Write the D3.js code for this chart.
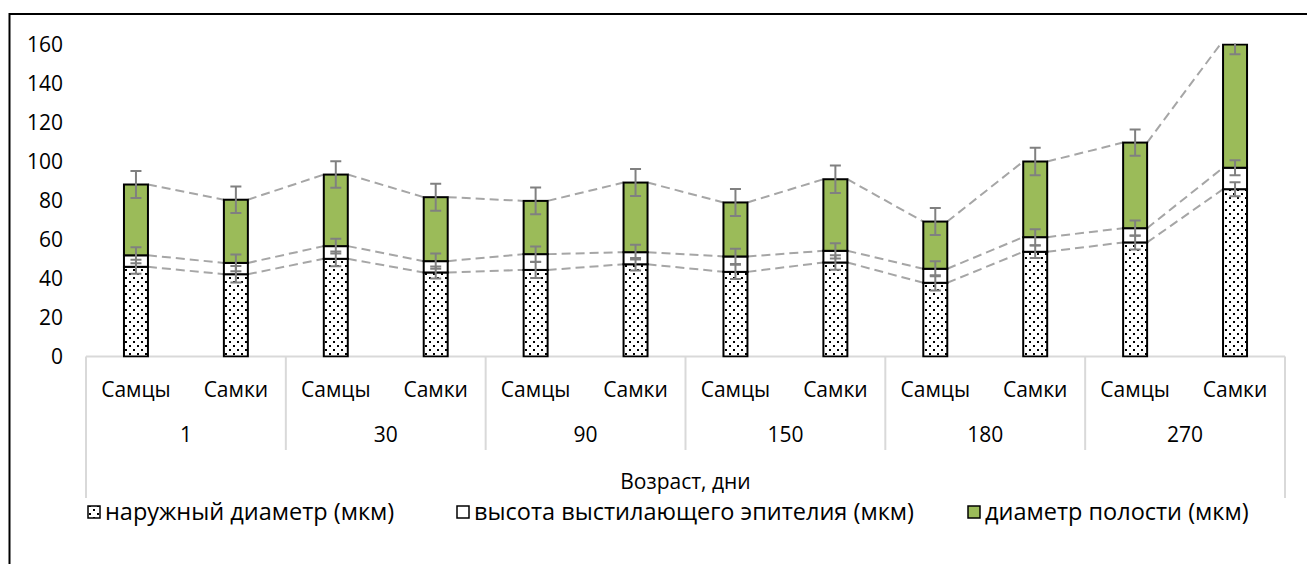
<!DOCTYPE html>
<html>
<head>
<meta charset="utf-8">
<script src="https://cdn.jsdelivr.net/npm/d3@7"></script>
<style>
  body { margin: 0; background: #fff; }
  svg { display: block; }
  text { font-family: "Open Sans", "Noto Sans", sans-serif; fill: #000; }
</style>
</head>
<body>
<svg id="chart" width="1307" height="564"></svg>
<script>
// Sex within each age group, age groups (days)
const sexes = ["Самцы", "Самки"];
const ages = ["1", "30", "90", "150", "180", "270"];

// Stacked components (µm), one value per bar: age × sex
const outerDiameter    = [46.0, 42.2, 50.1, 43.1, 44.4, 47.3, 43.4, 48.2, 37.8, 53.7, 58.5, 85.8];
const epitheliumHeight = [5.9, 5.8, 6.5, 5.8, 8.1, 6.2, 7.9, 6.0, 7.2, 7.5, 7.3, 11.0];
const cavityDiameter   = [36.3, 32.4, 36.7, 32.8, 27.3, 35.7, 27.7, 36.7, 24.2, 38.8, 43.9, 65.2];

// Error margins (±) for each component
const outerErr      = [3.6, 4.2, 3.8, 3.1, 4.1, 3.2, 3.6, 3.7, 3.9, 3.2, 3.6, 3.6];
const epitheliumErr = [4.1, 4.3, 3.8, 3.9, 3.9, 3.8, 3.9, 3.9, 3.9, 4.1, 3.9, 3.8];
const cavityErr     = [6.9, 6.8, 6.8, 6.9, 6.9, 6.9, 6.9, 7.0, 6.9, 7.0, 6.7, 7.0];

const yTicks = [0, 20, 40, 60, 80, 100, 120, 140, 160];

const seriesNames = ["наружный диаметр (мкм)", "высота выстилающего эпителия (мкм)", "диаметр полости (мкм)"];
const axisTitle = "Возраст, дни";

const keys = ["outer", "epi", "cavity"];
const rows = outerDiameter.map((v, i) => ({
  idx: i, outer: v, epi: epitheliumHeight[i], cavity: cavityDiameter[i]
}));
const errs = { outer: outerErr, epi: epitheliumErr, cavity: cavityErr };
const fills = { outer: "url(#dots)", epi: "#ffffff", cavity: "#9BBB59" };

const svg = d3.select("#chart");
const FONT = 21;
const LEGEND_FONT = 23.5;

// Plot area
const x0 = 86, x1 = 1285;
const x = d3.scaleBand().domain(d3.range(rows.length)).range([x0, x1])
  .paddingInner(0.76).paddingOuter(0.38);
const y = d3.scaleLinear().domain([0, 160]).range([356.5, 44.5]);
const bw = x.bandwidth();

const defs = svg.append("defs");
const pat = defs.append("pattern").attr("id", "dots")
  .attr("width", 8).attr("height", 8).attr("patternUnits", "userSpaceOnUse");
pat.append("rect").attr("width", 8).attr("height", 8).attr("fill", "#fff");
pat.append("rect").attr("x", 1).attr("y", 1).attr("width", 2).attr("height", 2).attr("fill", "#000");
pat.append("rect").attr("x", 5).attr("y", 5).attr("width", 2).attr("height", 2).attr("fill", "#000");

defs.append("clipPath").attr("id", "plotClip")
  .append("rect").attr("x", x0 - 20).attr("y", y(160) - 1)
  .attr("width", x1 - x0 + 40).attr("height", y(0) - y(160) + 2);

// Chart border
svg.append("rect").attr("x", 9.5).attr("y", 14).attr("width", 1400).attr("height", 700)
  .attr("fill", "none").attr("stroke", "#000").attr("stroke-width", 2);

// Y axis labels
const yAxis = svg.append("g").attr("transform", `translate(${x0},0)`)
  .call(d3.axisLeft(y).tickValues(yTicks).tickSize(0).tickPadding(23));
yAxis.select(".domain").remove();
yAxis.selectAll("text").attr("font-size", FONT).attr("font-family", null).attr("fill", "#000");

// Category axis (two levels + title)
const step = x.step();
const cat = svg.append("g").attr("stroke", "#D9D9D9").attr("stroke-width", 2);
cat.append("line").attr("x1", x0).attr("x2", x1).attr("y1", y(0)).attr("y2", y(0));
ages.forEach((a, g) => {
  const bx = x0 + g * 2 * step;
  cat.append("line").attr("x1", bx).attr("x2", bx).attr("y1", y(0)).attr("y2", g === 0 ? 498 : 450);
});
cat.append("line").attr("x1", x1).attr("x2", x1).attr("y1", y(0)).attr("y2", 498);

svg.append("g").selectAll("text").data(rows).join("text")
  .attr("x", d => x(d.idx) + bw / 2).attr("y", 397)
  .attr("text-anchor", "middle").attr("font-size", FONT)
  .text(d => sexes[d.idx % 2]);

svg.append("g").selectAll("text").data(ages).join("text")
  .attr("x", (a, g) => x0 + (g * 2 + 1) * step).attr("y", 442)
  .attr("text-anchor", "middle").attr("font-size", FONT)
  .text(a => a);

svg.append("text").attr("x", (x0 + x1) / 2).attr("y", 489)
  .attr("text-anchor", "middle").attr("font-size", FONT).text(axisTitle);

// Stacked bars
const stacked = d3.stack().keys(keys)(rows);
const plot = svg.append("g").attr("clip-path", "url(#plotClip)");

// Series lines connecting segment tops between neighbouring bars
const lines = plot.append("g").attr("stroke", "#A6A6A6").attr("stroke-width", 2)
  .attr("stroke-dasharray", "9,5").attr("fill", "none");
stacked.forEach(s => {
  for (let i = 0; i < s.length - 1; i++) {
    lines.append("line")
      .attr("x1", x(i) + bw).attr("y1", y(s[i][1]))
      .attr("x2", x(i + 1)).attr("y2", y(s[i + 1][1]));
  }
});

stacked.forEach(s => {
  plot.append("g").selectAll("rect").data(s).join("rect")
    .attr("x", (d, i) => x(i)).attr("width", bw)
    .attr("y", d => y(Math.min(d[1], 160)))
    .attr("height", d => y(d[0]) - y(Math.min(d[1], 160)))
    .attr("fill", fills[s.key]).attr("stroke", "#000").attr("stroke-width", 2);
});

// Error bars at the top of each segment
const eb = plot.append("g").attr("stroke", "#808080").attr("stroke-width", 2);
stacked.forEach(s => {
  s.forEach((d, i) => {
    const cx = x(i) + bw / 2;
    const e = errs[s.key][i];
    const hi = y(d[1] + e), lo = y(d[1] - e);
    eb.append("line").attr("x1", cx).attr("x2", cx).attr("y1", hi).attr("y2", lo);
    eb.append("line").attr("x1", cx - 5.5).attr("x2", cx + 5.5).attr("y1", hi).attr("y2", hi);
    eb.append("line").attr("x1", cx - 5.5).attr("x2", cx + 5.5).attr("y1", lo).attr("y2", lo);
  });
});

// Legend
const legendX = [88, 457, 968];
const legend = svg.append("g");
keys.forEach((k, j) => {
  legend.append("rect").attr("x", legendX[j]).attr("y", 506).attr("width", 12).attr("height", 12)
    .attr("fill", fills[k]).attr("stroke", "#000").attr("stroke-width", 1.5);
  legend.append("text").attr("x", legendX[j] + 17).attr("y", 520)
    .attr("font-size", LEGEND_FONT).text(seriesNames[j]);
});
</script>
</body>
</html>
